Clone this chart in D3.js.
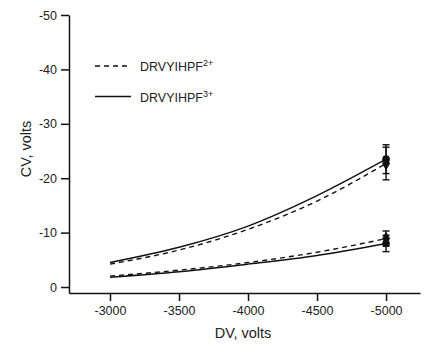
<!DOCTYPE html>
<html><head><meta charset="utf-8">
<script src="https://cdn.jsdelivr.net/npm/d3@7"></script>
<style>
body{margin:0;background:#fff;}
svg{display:block;font-family:"Liberation Sans",Arial,Helvetica,sans-serif;}
</style></head>
<body><svg id="c" width="439" height="350"></svg>
<script>
const dv = [-3000, -3500, -4000, -4500, -5000];
const upper3 = [-4.5, -7.3, -11.2, -16.8, -23.5];
const upper2 = [-4.2, -6.8, -10.6, -15.8, -22.7];
const lower3 = [-1.8, -2.8, -4.2, -5.8, -8.0];
const lower2 = [-2.0, -3.1, -4.5, -6.4, -8.9];
const endDV = -5000;
const endMean3 = [-23.5, -8.0];
const endErr3 = [2.65, 1.5];
const endMean2 = [-22.7, -8.9];
const endErr2 = [3.0, 1.4];
const xTicks = [-3000, -3500, -4000, -4500, -5000];
const yTicks = [0, -10, -20, -30, -40, -50];

const svg = d3.select("#c");
const x = d3.scaleLinear().domain([-2703, -5246]).range([69, 420]);
const y = d3.scaleLinear().domain([1.1, -50]).range([293, 15]);

const xa = svg.append("g").attr("transform","translate(0,293)")
  .call(d3.axisBottom(x).tickValues(xTicks).tickSize(8).tickPadding(5).tickFormat(d3.format("d")).tickSizeOuter(0));
const ya = svg.append("g").attr("transform","translate(69,0)")
  .call(d3.axisLeft(y).tickValues(yTicks).tickSize(8).tickPadding(4).tickFormat(d3.format("d")).tickSizeOuter(0));
[xa, ya].forEach(a => {
  a.selectAll("path,line").attr("stroke","#111").attr("stroke-width",1.5);
  a.selectAll("text").attr("fill","#222").style("font-size","12.5px")
    .text(function(d){ return String(d); });
});

svg.append("text").attr("x",243).attr("y",338).attr("text-anchor","middle")
  .attr("fill","#222").style("font-size","14.5px").text("DV, volts");
svg.append("text").attr("transform","translate(31,149) rotate(-90)").attr("text-anchor","middle")
  .attr("fill","#222").style("font-size","14.5px").text("CV, volts");

const line = d3.line().x((d,i)=>x(dv[i])).y(d=>y(d)).curve(d3.curveMonotoneX);
function draw(arr, dashed){
  svg.append("path").datum(arr).attr("d", line).attr("fill","none").attr("stroke","#111")
    .attr("stroke-width",1.4).attr("stroke-dasharray", dashed ? "5,4" : null);
}
draw(upper3,false); draw(upper2,true); draw(lower3,false); draw(lower2,true);

function errbar(m, e){
  const cx = x(endDV);
  const g = svg.append("g").attr("stroke","#111").attr("stroke-width",1.4);
  g.append("line").attr("x1",cx).attr("x2",cx).attr("y1",y(m-e)).attr("y2",y(m+e));
  g.append("line").attr("x1",cx-3.5).attr("x2",cx+3.5).attr("y1",y(m-e)).attr("y2",y(m-e));
  g.append("line").attr("x1",cx-3.5).attr("x2",cx+3.5).attr("y1",y(m+e)).attr("y2",y(m+e));
}
endMean3.forEach((m,i)=>errbar(m,endErr3[i]));
endMean2.forEach((m,i)=>errbar(m,endErr2[i]));
endMean3.forEach(m=>{
  svg.append("circle").attr("cx",x(endDV)).attr("cy",y(m)).attr("r",3.8).attr("fill","#111");
});
endMean2.forEach(m=>{
  svg.append("path").attr("d", d3.symbol().type(d3.symbolDiamond).size(55)())
    .attr("transform",`translate(${x(endDV)},${y(m)})`).attr("fill","#111");
});

// legend
const leg = [{label:"DRVYIHPF", sup:"2+", dashed:true, y:66},{label:"DRVYIHPF", sup:"3+", dashed:false, y:96.5}];
leg.forEach(l=>{
  svg.append("line").attr("x1",95).attr("x2",131).attr("y1",l.y).attr("y2",l.y)
    .attr("stroke","#111").attr("stroke-width",1.4).attr("stroke-dasharray", l.dashed ? "5,4" : null);
  const t = svg.append("text").attr("x",140).attr("y",l.y+5).attr("fill","#222").style("font-size","12.5px");
  t.append("tspan").text(l.label);
  t.append("tspan").attr("dy",-5).style("font-size","9px").text(l.sup);
});
</script></body></html>
